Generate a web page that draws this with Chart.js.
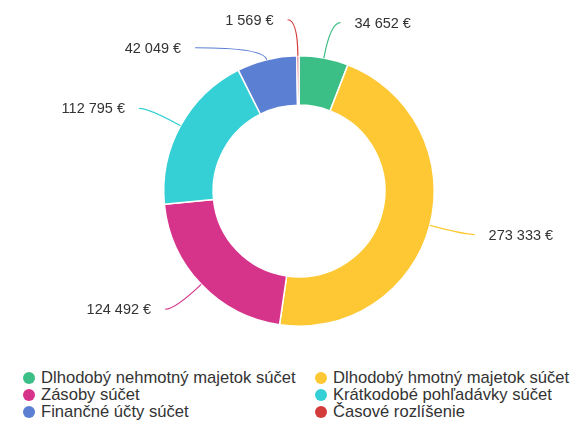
<!DOCTYPE html>
<html>
<head>
<meta charset="utf-8">
<script src="https://cdn.jsdelivr.net/npm/chart.js@4.4.1/dist/chart.umd.min.js"></script>
<style>
  html, body { margin: 0; padding: 0; background: #fff; }
  #wrap { position: relative; width: 570px; height: 421px; font-family: "Liberation Sans", Arial, sans-serif; }
  #chart-box { position: absolute; left: 0; top: 0; width: 570px; height: 360px; }
  #legend {
    position: absolute; left: 23px; top: 369px;
    display: grid; grid-template-columns: 292px 255px;
    font-size: 16.6px; color: #333;
  }
  .legend-item { display: flex; align-items: center; height: 17px; white-space: nowrap; }
  .legend-dot { width: 12px; height: 12px; border-radius: 50%; margin-right: 6px; flex: none; }
</style>
</head>
<body>
<div id="wrap">
  <div id="chart-box"><canvas id="donut-chart"></canvas></div>
  <div id="legend"></div>
</div>
<script>
// Categories and values
const categories = [
  "Dlhodobý nehmotný majetok súčet",
  "Dlhodobý hmotný majetok súčet",
  "Zásoby súčet",
  "Krátkodobé pohľadávky súčet",
  "Finančné účty súčet",
  "Časové rozlíšenie"
];
const values = [34652, 273333, 124492, 112795, 42049, 1569];
const colors = ["#3cbf86", "#fec834", "#d6338a", "#35cfd6", "#5b7fd3", "#d43c3c"];

// "273333" -> "273 333 €"
function formatEuro(v) {
  return String(v).replace(/\B(?=(\d{3})+(?!\d))/g, " ") + " €";
}

// Draw value labels with leader lines outside the ring
const sliceLabels = {
  id: "sliceLabels",
  afterDatasetsDraw(chart) {
    const meta = chart.getDatasetMeta(0);
    const ctx = chart.ctx;
    const gap = 28;
    const items = meta.data.map((arc, i) => {
      const p = arc.getProps(["x", "y", "startAngle", "endAngle", "outerRadius"], true);
      const mid = (p.startAngle + p.endAngle) / 2;
      const cos = Math.cos(mid);
      const sin = Math.sin(mid);
      const R = p.outerRadius + 36;
      return {
        i, cx: p.x, cy: p.y, cos, sin, R,
        ex: p.x + cos * p.outerRadius,
        ey: p.y + sin * p.outerRadius,
        ky: p.y + sin * R,
        right: cos >= 0,
        pushed: false
      };
    });

    // push overlapping labels down, per side
    [true, false].forEach((side) => {
      const group = items.filter((it) => it.right === side).sort((a, b) => a.ky - b.ky);
      for (let k = 1; k < group.length; k++) {
        if (group[k].ky < group[k - 1].ky + gap) {
          group[k].ky = group[k - 1].ky + gap;
          group[k].pushed = true;
        }
      }
    });

    ctx.save();
    ctx.font = "14.5px 'Liberation Sans', Arial, sans-serif";
    ctx.fillStyle = "#333";
    ctx.textBaseline = "middle";
    ctx.lineWidth = 1.2;
    items.forEach((it) => {
      const dir = it.right ? 1 : -1;
      const dy = it.ky - it.cy;
      const kx = it.cx + dir * Math.sqrt(Math.max(it.R * it.R - dy * dy, 0));
      let cpx = kx, cpy = it.ky;
      if (it.pushed) {
        const t = (it.ky - it.ey) / it.sin;
        cpx = it.ex + it.cos * t;
      }
      const lx = kx + dir * 10;

      ctx.strokeStyle = colors[it.i];
      ctx.beginPath();
      ctx.moveTo(it.ex, it.ey);
      ctx.quadraticCurveTo(cpx, cpy, lx, it.ky);
      ctx.stroke();

      ctx.textAlign = it.right ? "left" : "right";
      ctx.fillText(formatEuro(values[it.i]), lx + dir * 14, it.ky + 1);
    });
    ctx.restore();
  }
};

const chart = new Chart(document.getElementById("donut-chart"), {
  type: "doughnut",
  data: {
    labels: categories,
    datasets: [{
      data: values,
      backgroundColor: colors,
      borderColor: "#fff",
      borderWidth: 1.5,
      cutout: "63.5%"
    }]
  },
  options: {
    responsive: true,
    maintainAspectRatio: false,
    animation: false,
    layout: { padding: { top: 55, bottom: 33, left: 28, right: 0 } },
    plugins: {
      legend: { display: false },
      tooltip: { enabled: false }
    }
  },
  plugins: [sliceLabels]
});

// HTML legend in two columns
const legend = document.getElementById("legend");
categories.forEach((name, i) => {
  const item = document.createElement("div");
  item.className = "legend-item";
  item.innerHTML = '<span class="legend-dot" style="background:' + colors[i] + '"></span>' + name;
  legend.appendChild(item);
});
</script>
</body>
</html>
